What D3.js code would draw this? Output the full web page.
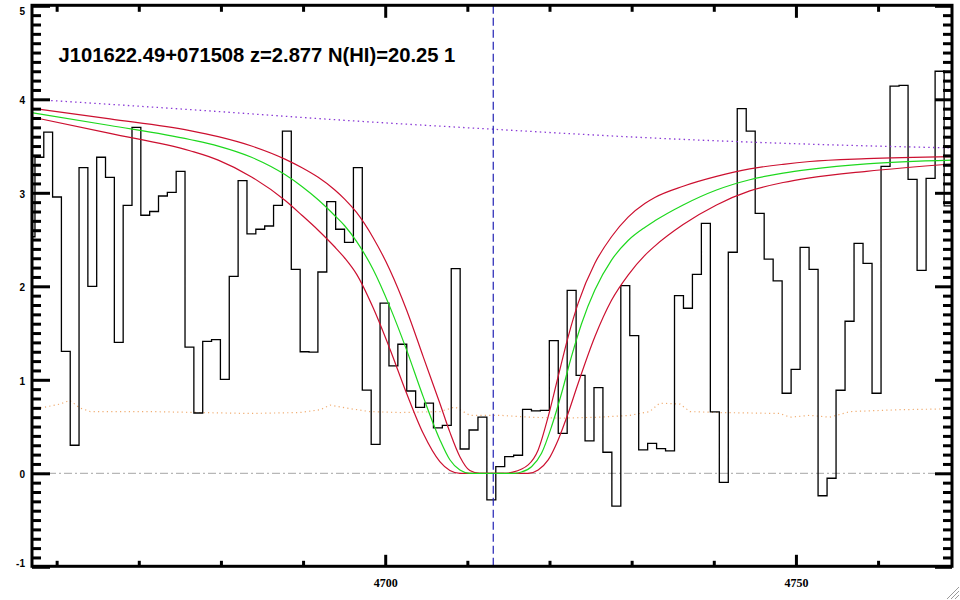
<!DOCTYPE html>
<html><head><meta charset="utf-8">
<script src="https://cdn.jsdelivr.net/npm/d3@7"></script>
<style>body{margin:0;background:#fff}svg{display:block}</style>
</head><body>
<svg id="chart" width="960" height="600"></svg>
<script>
// ---- data ----
const titleText = "J101622.49+071508 z=2.877 N(HI)=20.25 1";
const zAbs = 2.877;
const lyaRest = 1215.67;
// SDSS log-lambda pixel grid (centre of first pixel, step)
const logLam0 = 3.66809;
const dLogLam = 1e-4;
const fluxValues = [
  2.53, 3.38, 3.65, 2.955, 1.305, 0.30, 3.27, 2.00, 3.38, 3.166,
  1.40, 2.866, 3.70, 2.76, 2.80, 2.966, 3.005, 3.23, 1.35, 0.645,
  1.41, 1.43, 1.005, 2.107, 3.13, 2.56, 2.61, 2.645, 2.866, 3.66,
  2.18, 1.30, 1.295, 2.153, 2.905, 2.61, 2.47, 3.27, 0.89, 0.31,
  1.82, 1.15, 1.38, 0.88, 0.705, 0.75, 0.485, 0.513, 2.19, 0.26,
  0.463, 0.60, -0.285, 0.071, 0.178, 0.193, 0.684, 0.667, 0.674, 1.42,
  0.428, 1.957, 1.048, 0.346, 0.916, 0.225, -0.35, 2.007, 1.472, 0.25,
  0.32, 0.264, 0.239, 1.90, 1.765, 2.128, 2.674, 0.656, -0.096, 2.364,
  3.90, 3.66, 2.78, 2.29, 2.057, 0.856, 1.112, 2.417, 2.18, -0.24,
  -0.053, 0.888, 1.626, 2.46, 2.246, 0.856, 3.283, 4.14, 4.15, 3.144,
  2.17, 3.155, 4.30, 2.86
];
const contLam  = [4657.0, 4676.2, 4695.1, 4713.1, 4732.8, 4751.7, 4769.0];
const contFlux = [4.00, 3.89, 3.775, 3.68, 3.585, 3.52, 3.48];

const errLam  = [4657.0,4660.4,4661.6,4662.8,4664.1,4671.4,4677.4,4683.5,4689.6,4692.1,4693.3,4695.1,4698.1,4701.8,4706.7,4708.5,4710.3,4714.0,4717.6,4721.3,4726.1,4729.8,4732.2,4733.4,4735.9,4737.1,4740.7,4748.0,4749.3,4751.7,4754.1,4756.6,4762.6,4769.0];
const errFlux = [0.68,0.74,0.78,0.70,0.66,0.66,0.65,0.64,0.65,0.68,0.73,0.70,0.66,0.65,0.66,0.71,0.62,0.62,0.60,0.59,0.60,0.62,0.66,0.75,0.74,0.66,0.65,0.64,0.60,0.62,0.60,0.66,0.68,0.69];

// best-fit profile (green)
const fitLam  = [4657.0,4666.49,4676.22,4679.67,4683.73,4687.79,4689.82,4691.84,4693.87,4695.09,4696.51,4698.53,4700.57,4702.60,4704.62,4706.65,4707.87,4709.09,4710.30,4715.8,4716.60,4717.81,4719.03,4720.25,4721.47,4722.68,4723.90,4725.52,4727.55,4729.57,4731.60,4732.82,4736.27,4740.33,4744.38,4748.44,4751.69,4758.59,4769.0];
const fitFlux = [3.857,3.72,3.57,3.50,3.38,3.195,3.07,2.925,2.755,2.645,2.48,2.18,1.78,1.32,0.82,0.36,0.145,0.035,0.0,0.0,0.014,0.07,0.214,0.50,0.856,1.25,1.60,1.96,2.28,2.49,2.63,2.70,2.87,3.03,3.14,3.21,3.25,3.31,3.35];

// lower-N profile (red, narrower)
const lowNLam  = [4657.0,4666.49,4676.22,4679.67,4683.73,4687.79,4689.82,4691.84,4693.87,4695.09,4696.51,4698.53,4700.57,4702.60,4704.62,4706.65,4707.87,4709.09,4710.30,4711.52,4714.8,4715.38,4717.40,4718.62,4719.84,4721.05,4722.27,4723.49,4725.52,4727.55,4729.57,4731.60,4732.82,4736.27,4740.33,4744.38,4748.44,4751.69,4758.59,4769.0];
const lowNFlux = [3.905,3.79,3.665,3.60,3.50,3.36,3.27,3.165,3.03,2.93,2.79,2.52,2.175,1.747,1.248,0.749,0.44,0.178,0.03,0.0,0.0,0.01,0.09,0.25,0.606,1.034,1.46,1.82,2.246,2.53,2.74,2.885,2.95,3.07,3.175,3.255,3.305,3.335,3.365,3.387];

// higher-N profile (red, wider)
const highNLam  = [4657.0,4666.49,4676.22,4679.67,4683.73,4687.79,4689.82,4691.84,4693.87,4695.09,4696.51,4698.53,4700.57,4702.60,4704.62,4706.65,4707.87,4709.09,4717.40,4718.62,4719.84,4721.05,4722.27,4723.49,4725.52,4727.55,4729.57,4731.60,4732.82,4736.27,4740.33,4744.38,4748.44,4751.69,4758.59,4769.0];
const highNFlux = [3.81,3.636,3.45,3.35,3.17,2.92,2.763,2.60,2.42,2.30,2.13,1.77,1.33,0.856,0.428,0.125,0.03,0.0,0.0,0.036,0.143,0.357,0.642,0.963,1.46,1.85,2.12,2.33,2.43,2.66,2.87,3.02,3.11,3.16,3.23,3.308];

const xTickMajor = [4700, 4750];
const xTickMinor = [4660, 4670, 4680, 4690, 4710, 4720, 4730, 4740, 4760];
const yTickMajor = [-1, 0, 1, 2, 3, 4, 5];
const xDomain = [4657.0, 4769.0];
const yDomain = [-1, 5];

// ---- drawing ----
const svg = d3.select("#chart");
const L = 32, R = 952, T = 5.8, B = 566.8;
const x = d3.scaleLinear().domain(xDomain).range([L, R]);
const y = d3.scaleLinear().domain(yDomain).range([B, T]);

svg.append("defs").append("clipPath").attr("id","clip")
  .append("rect").attr("x",L).attr("y",T).attr("width",R-L).attr("height",B-T);
const plot = svg.append("g").attr("clip-path","url(#clip)");

const zip = (a,b) => a.map((v,i)=>[v,b[i]]);

// error array (orange dotted)
plot.append("path").datum(zip(errLam, errFlux))
  .attr("d", d3.line().x(d=>x(d[0])).y(d=>y(d[1])))
  .attr("fill","none").attr("stroke","#f0ad72").attr("stroke-width",1.2)
  .attr("stroke-dasharray","1.2,3.2");

// zero line (dash-dot grey)
plot.append("path").datum([[xDomain[0],0],[xDomain[1],0]])
  .attr("d", d3.line().x(d=>x(d[0])).y(d=>y(d[1])))
  .attr("stroke","#a6a6a6").attr("stroke-width",1)
  .attr("stroke-dasharray","8,3,2,3");

// spectrum histogram
const stepPts = [];
fluxValues.forEach((f,i)=>{
  const e0 = Math.pow(10, logLam0 + (i-0.5)*dLogLam);
  const e1 = Math.pow(10, logLam0 + (i+0.5)*dLogLam);
  stepPts.push([e0,f],[e1,f]);
});
plot.append("path").datum(stepPts)
  .attr("d", d3.line().x(d=>x(d[0])).y(d=>y(d[1])))
  .attr("fill","none").attr("stroke","#000").attr("stroke-width",1.3)
  .attr("stroke-linejoin","miter");

// continuum (purple dotted)
plot.append("path").datum(zip(contLam, contFlux))
  .attr("d", d3.line().curve(d3.curveMonotoneX).x(d=>x(d[0])).y(d=>y(d[1])))
  .attr("fill","none").attr("stroke","#8a3ad6").attr("stroke-width",1.3)
  .attr("stroke-dasharray","1.5,3.3");

// model profiles
const mline = d3.line().curve(d3.curveMonotoneX).x(d=>x(d[0])).y(d=>y(d[1]));
plot.append("path").datum(zip(lowNLam, lowNFlux)).attr("d", mline)
  .attr("fill","none").attr("stroke","#cc1030").attr("stroke-width",1.2);
plot.append("path").datum(zip(highNLam, highNFlux)).attr("d", mline)
  .attr("fill","none").attr("stroke","#cc1030").attr("stroke-width",1.2);
plot.append("path").datum(zip(fitLam, fitFlux)).attr("d", mline)
  .attr("fill","none").attr("stroke","#1ed81e").attr("stroke-width",1.2);

// line centre (blue dashed)
const lamC = lyaRest*(1+zAbs);
svg.append("line").attr("x1",x(lamC)).attr("x2",x(lamC))
  .attr("y1",T).attr("y2",B)
  .attr("stroke","#2222b4").attr("stroke-width",1.2).attr("stroke-dasharray","8,4");

// axes
function styleAxis(g){
  g.select(".domain").remove();
  g.selectAll(".tick line").attr("stroke","#000").attr("stroke-width",3);
}
const yMinor = d3.range(-10, 51).map(k=>k/10).filter(v=>Math.abs(v-Math.round(v))>1e-6);

svg.append("g").attr("transform",`translate(${L},0)`)
  .call(d3.axisLeft(y).tickValues(yMinor).tickSize(-9).tickFormat(""))
  .call(styleAxis);
const yMaj = svg.append("g").attr("transform",`translate(${L},0)`)
  .call(d3.axisLeft(y).tickValues(yTickMajor).tickSize(-18).tickPadding(7).tickFormat(d => String(d)))
  .call(styleAxis);
yMaj.selectAll("text")
  .attr("font-family","'Liberation Sans', Arial, sans-serif").attr("font-weight","bold")
  .attr("font-size",10).attr("fill","#000").attr("dy",null)
  .attr("y", d => Math.min(Math.max(y(d)+4.5, 14) , 566) - y(d));

svg.append("g").attr("transform",`translate(${R},0)`)
  .call(d3.axisRight(y).tickValues(yMinor).tickSize(-9).tickFormat(""))
  .call(styleAxis);
svg.append("g").attr("transform",`translate(${R},0)`)
  .call(d3.axisRight(y).tickValues(yTickMajor).tickSize(-17).tickFormat(""))
  .call(styleAxis);

svg.append("g").attr("transform",`translate(0,${B})`)
  .call(d3.axisBottom(x).tickValues(xTickMinor).tickSize(-6).tickFormat(""))
  .call(styleAxis);
const xMaj = svg.append("g").attr("transform",`translate(0,${B})`)
  .call(d3.axisBottom(x).tickValues(xTickMajor).tickSize(-12).tickPadding(12).tickFormat(d => String(d)))
  .call(styleAxis);
xMaj.selectAll("text")
  .attr("font-family","'Liberation Serif', 'Times New Roman', serif").attr("font-weight","bold")
  .attr("font-size",12).attr("fill","#000");

svg.append("g").attr("transform",`translate(0,${T})`)
  .call(d3.axisTop(x).tickValues(xTickMinor).tickSize(-6).tickFormat(""))
  .call(styleAxis);
svg.append("g").attr("transform",`translate(0,${T})`)
  .call(d3.axisTop(x).tickValues(xTickMajor).tickSize(-12).tickFormat(""))
  .call(styleAxis);

// frame
svg.append("rect").attr("x",L).attr("y",T-0.5).attr("width",R-L).attr("height",B-T)
  .attr("fill","none").attr("stroke","#000").attr("stroke-width",3);

// title
svg.append("text").attr("x",58.5).attr("y",62.3)
  .attr("font-family","'Liberation Sans', Arial, Helvetica, sans-serif")
  .attr("font-weight","bold").attr("font-size",20.2).attr("fill","#000")
  .text(titleText);

// window resize grip (bottom-right corner)
const grip = svg.append("g").attr("stroke","#9a9a9a").attr("stroke-width",1);
[[959,587,947,599],[959,591,951,599],[959,595,955,599]].forEach(s=>{
  grip.append("line").attr("x1",s[0]).attr("y1",s[1]).attr("x2",s[2]).attr("y2",s[3]);
});
</script>
</body></html>
